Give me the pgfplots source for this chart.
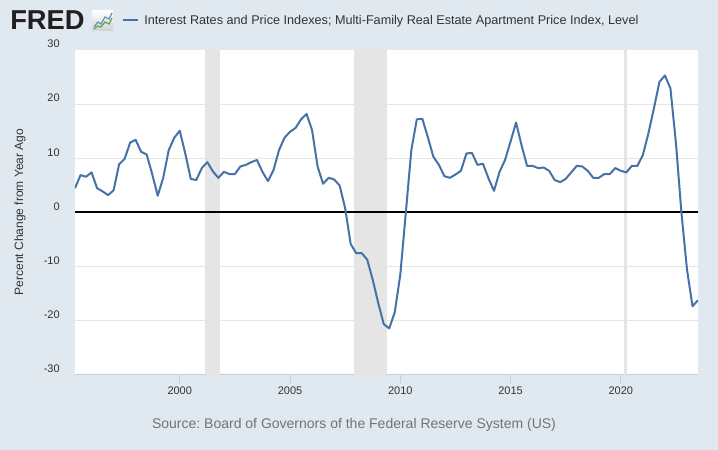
\documentclass[border=0pt]{standalone}
\usepackage{fontspec}
\setmainfont{Liberation Sans}
\usepackage{pgfplots}
\usepackage{pgfplotstable}
\pgfplotsset{compat=1.18}
\definecolor{bgc}{HTML}{E1E9F0}
\definecolor{gridc}{HTML}{E6E6E6}
\definecolor{axlc}{HTML}{C0D0E0}
\definecolor{linec}{HTML}{4572A7}
\definecolor{recc}{HTML}{E5E5E5}
\definecolor{txtc}{HTML}{333333}
\definecolor{srcc}{HTML}{737373}
\definecolor{fredc}{HTML}{231F20}

\pgfplotstableread{
year val
1995.25 4.5
1995.50 6.9
1995.75 6.6
1996.00 7.4
1996.25 4.5
1996.50 3.9
1996.75 3.2
1997.00 4.1
1997.25 8.9
1997.50 9.9
1997.75 12.9
1998.00 13.4
1998.25 11.2
1998.50 10.7
1998.75 7.1
1999.00 3.1
1999.25 6.4
1999.50 11.5
1999.75 13.8
2000.00 15.1
2000.25 10.9
2000.50 6.2
2000.75 6.0
2001.00 8.2
2001.25 9.3
2001.50 7.6
2001.75 6.4
2002.00 7.5
2002.25 7.1
2002.50 7.1
2002.75 8.5
2003.00 8.8
2003.25 9.3
2003.50 9.7
2003.75 7.5
2004.00 5.8
2004.25 7.8
2004.50 11.5
2004.75 13.8
2005.00 14.9
2005.25 15.6
2005.50 17.2
2005.75 18.2
2006.00 15.2
2006.25 8.5
2006.50 5.3
2006.75 6.4
2007.00 6.1
2007.25 5.0
2007.50 0.8
2007.75 -5.8
2008.00 -7.5
2008.25 -7.5
2008.50 -8.7
2008.75 -12.4
2009.00 -16.7
2009.25 -20.6
2009.50 -21.4
2009.75 -18.4
2010.00 -11.5
2010.25 -0.1
2010.50 11.5
2010.75 17.2
2011.00 17.3
2011.25 13.9
2011.50 10.3
2011.75 8.8
2012.00 6.7
2012.25 6.4
2012.50 7.0
2012.75 7.7
2013.00 10.9
2013.25 11.0
2013.50 8.8
2013.75 9.0
2014.00 6.3
2014.25 4.0
2014.50 7.5
2014.75 9.7
2015.00 13.1
2015.25 16.6
2015.50 12.4
2015.75 8.6
2016.00 8.6
2016.25 8.2
2016.50 8.3
2016.75 7.7
2017.00 6.0
2017.25 5.6
2017.50 6.2
2017.75 7.4
2018.00 8.6
2018.25 8.5
2018.50 7.7
2018.75 6.4
2019.00 6.4
2019.25 7.1
2019.50 7.1
2019.75 8.2
2020.00 7.7
2020.25 7.4
2020.50 8.6
2020.75 8.6
2021.00 10.6
2021.25 14.6
2021.50 19.2
2021.75 24.1
2022.00 25.3
2022.25 22.9
2022.50 12.8
2022.75 -0.1
2023.00 -10.5
2023.25 -17.3
2023.50 -16.2
}\mfdata

\begin{document}
\frenchspacing
\begin{tikzpicture}
% background (pixel coordinates, origin at top-left)
\begin{scope}[shift={(-56.25pt,281.25pt)}, x=0.75pt, y=-0.75pt]
  \fill[bgc] (0,0) rectangle (718,450);
\end{scope}

\begin{axis}[
  at={(0,0)}, anchor=south west,
  scale only axis, width=467.25pt, height=243.75pt,
  xmin=1995.25, xmax=2023.5, ymin=-30, ymax=30,
  axis background/.style={fill=white},
  separate axis lines,
  axis x line*=bottom, axis y line*=left,
  x axis line style={draw=axlc, line width=0.75pt, -},
  y axis line style={draw=none},
  xtick={2000,2005,2010,2015,2020},
  xticklabels={2000,2005,2010,2015,2020},
  ytick={-30,-20,-10,0,10,20,30},
  xtick align=outside,
  xtick style={draw=axlc, line width=0.75pt},
  major tick length=6pt,
  ytick style={draw=none},
  ymajorgrids,
  grid style={draw=gridc, line width=0.75pt},
  /pgf/number format/assume math mode=true,
  xticklabel style={font=\fontsize{8.25}{10}\selectfont, text=txtc, inner sep=0pt, anchor=north, yshift=-2.5pt},
  yticklabel style={font=\fontsize{8.25}{10}\selectfont, text=txtc, inner sep=0pt, anchor=east, xshift=-11.25pt, yshift=4.5pt},
  clip=true,
]
% recession bands
\addplot[fill=recc, draw=none] coordinates {(2001.167,-30) (2001.167,30) (2001.833,30) (2001.833,-30)} -- cycle;
\addplot[fill=recc, draw=none] coordinates {(2007.917,-30) (2007.917,30) (2009.417,30) (2009.417,-30)} -- cycle;
\addplot[fill=recc, draw=none] coordinates {(2020.125,-30) (2020.125,30) (2020.29,30) (2020.29,-30)} -- cycle;
% zero line
\addplot[black, line width=1.5pt] coordinates {(1995.25,0) (2023.5,0)};
% series
\addplot[linec, line width=1.5pt, line join=round] table[x=year, y=val] {\mfdata};
\end{axis}

% decorations in pixel coordinates
\begin{scope}[shift={(-56.25pt,281.25pt)}, x=0.75pt, y=-0.75pt]
  % FRED logo
  \node[anchor=base west, inner sep=0pt, text=fredc, font=\fontsize{20.5}{22}\selectfont\bfseries] at (10,30) {FRED};
  \shade[top color=white, bottom color=black!18] (92,11) rectangle (113,31);
  \draw[green!55!black!70, line width=0.9pt] (94,29) -- (98,26) -- (101,27) -- (105,22) -- (109,24) -- (112,18);
  \draw[linec!80, line width=0.9pt] (94,27) -- (98,22) -- (101,24) -- (105,17) -- (109,19) -- (112,13);
  % legend
  \draw[linec, line width=1.5pt] (123,20) -- (138,20);
  \node[anchor=base west, inner sep=0pt, text=txtc, font=\fontsize{9.5}{11}\selectfont] at (144,24.5) {Interest Rates and Price Indexes; Multi-Family Real Estate Apartment Price Index, Level};
  % y label
  \node[rotate=90, inner sep=0pt, text=txtc, font=\fontsize{9}{11}\selectfont] at (20,212) {Percent Change from Year Ago};
  % source
  \node[inner sep=0pt, text=srcc, font=\fontsize{10.5}{12}\selectfont] at (354,425) {Source: Board of Governors of the Federal Reserve System (US)};
\end{scope}
\end{tikzpicture}
\end{document}
